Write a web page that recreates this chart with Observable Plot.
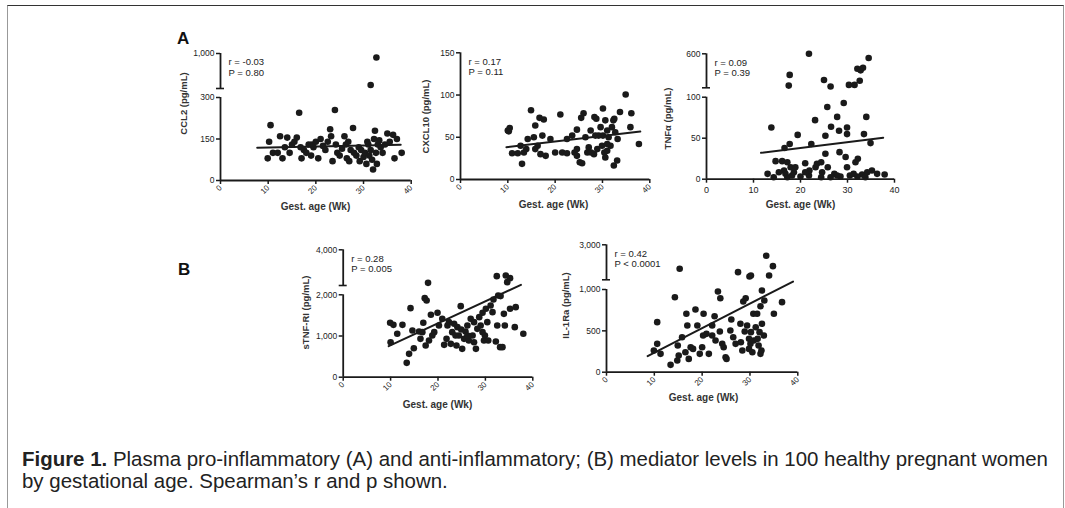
<!DOCTYPE html>
<html><head><meta charset="utf-8">
<script src="https://cdn.jsdelivr.net/npm/d3@7"></script>
<script src="https://cdn.jsdelivr.net/npm/@observablehq/plot@0.6"></script>
<style>
body{margin:0;background:#fff;}
#fig{position:relative;width:1065px;height:508px;overflow:hidden;font-family:"Liberation Sans",Arial,sans-serif;background:#fff;}
#frame{position:absolute;left:7px;top:5px;width:1055px;height:540px;border-top:1.5px solid #333;border-left:1.5px solid #999;border-right:1.5px solid #999;}
#fig svg{position:absolute;left:0;top:0;}
.letter{position:absolute;font-weight:bold;font-size:17px;line-height:17px;color:#111;}
.cap{position:absolute;left:22px;white-space:nowrap;font-size:20.5px;line-height:20px;color:#222;transform-origin:0 0;font-family:"Liberation Sans Narrow","Liberation Sans",Arial,sans-serif;}
</style></head>
<body>
<div id="fig"><div id="frame"></div>
<div class="letter" style="left:177px;top:30px;">A</div>
<div class="letter" style="left:178px;top:261px;">B</div>
<div class="cap" id="cap1" style="top:449px;"><b>Figure 1.</b> Plasma pro-inflammatory (A) and anti-inflammatory; (B) mediator levels in 100 healthy pregnant women</div>
<div class="cap" id="cap2" style="top:471px;">by gestational age. Spearman’s r and p shown.</div>
</div>
<script>
// ---------- data (gestational age in weeks, level in pg/mL) ----------
const xTicks = [0, 10, 20, 30, 40];
const xTitle = "Gest. age (Wk)";

const ccl2 = [[9.9,80],[10.2,140],[10.5,200],[11,100],[12,100],[12.5,160],[13,80],[13.5,120],[14,155],[14.5,100],[15,130],[15.5,140],[16,155],[16.5,245],[16.8,120],[17,80],[17.5,110],[18,100],[18.5,130],[19,90],[19.2,130],[19.5,120],[20,140],[20.5,80],[21,150],[21.5,125],[22,110],[22.5,140],[23,185],[23.2,160],[23.5,70],[24,255],[24.2,130],[24.5,100],[25,90],[25.5,115],[26,160],[26.3,130],[26.5,80],[26.8,140],[27,70],[27.3,110],[27.8,190],[28,100],[28.5,90],[29,120],[29.2,70],[29.5,110],[30,85],[30.3,100],[30.6,60],[30.8,140],[31,130],[31.2,90],[31.5,370],[31.5,110],[31.8,75],[32,40],[32.2,150],[32.4,180],[32.6,100],[32.7,920],[32.8,60],[33,130],[33.3,145],[33.6,120],[34,100],[34.5,130],[35,170],[35.5,140],[36.2,165],[36.5,80],[37,150],[38,100]];
const ccl2Fit = [[7.7,118],[37.8,129]];
const ccl2Ticks = [0, 150, 300, 1000];
const ccl2Stat = "r = -0.03\nP = 0.80";

const cxcl10 = [[10,58],[10.4,61],[10.2,57],[10.9,31],[12.1,31],[13,18.5],[13.9,36],[14.2,48],[14.9,82],[15.8,64],[16.7,73],[17.6,71],[16.3,40],[16.9,30],[18,28],[17.3,52],[19,48],[20,32],[21.1,77],[21.5,32],[22.5,48],[23.6,52],[24.1,32],[24.6,59],[25.2,20.5],[25.7,19.3],[25.5,73],[26,78.5],[26.4,50],[26.8,32],[27.5,58],[28.2,30],[28.3,74],[28.7,72],[28.9,36],[29.2,52],[29.6,62],[30.1,84],[30.4,32],[30.6,26],[31,58],[31.3,50],[31.7,40],[32,62],[32.3,70],[32.5,72],[32.4,16.6],[33.1,22.5],[33.7,80],[32.7,56],[33.2,48],[31,42],[29.9,40],[27.1,38],[24.6,36],[22.5,31],[34.9,100.6],[35.9,62],[36.1,78.5],[37.7,42],[15.5,50],[15.8,36],[13.4,32],[12.7,40],[28.5,52],[30.1,52],[31,34],[27.6,32],[24.6,28],[30.6,70]];
const cxcl10Fit = [[9.7,38.2],[38,56.8]];
const cxcl10Ticks = [0, 50, 100, 150];
const cxcl10Stat = "r = 0.17\nP = 0.11";

const tnfa = [[21.8,600],[17.7,290],[17.5,133],[25,214],[26.4,119],[30.3,143],[31.5,143],[32.1,381],[32.8,357],[33.3,395],[32.6,205],[34.5,538],[13.8,63],[13,6.5],[14.3,2.4],[14.7,22],[16.1,22],[16.5,10.6],[16.8,6.5],[17.2,2.4],[16.6,38],[17.7,43],[17.9,14.6],[18.2,4.5],[18.9,14.6],[19.4,54],[20,3.3],[21,19.5],[21.8,4.5],[22.3,43],[23.2,14.6],[23.5,18.7],[23.1,72],[24.4,20.7],[24.6,8.5],[25.3,53],[25.7,88],[25.3,31],[25.8,14.6],[26.4,2.4],[26.5,64],[27.2,6.5],[27.8,76],[28.2,59],[28.3,33],[28.5,3.3],[29.2,93],[29.6,27],[29.9,63],[29.9,55],[30.5,4.5],[31.3,6.5],[31.7,20.7],[32.2,25],[33.1,5.7],[33.5,55],[34,76],[34.9,44],[35.2,10.6],[36.3,6.5],[37.9,5.7],[29.9,14.6],[24.4,2.4],[21.9,10.6],[18.6,8.5],[17.2,20.7],[21,8.5],[27.8,4.5],[32.1,3.3],[34.2,8.5],[15.4,8.5],[33.8,2.4]];
const tnfaFit = [[11.6,32.2],[37.6,50.5]];
const tnfaTicks = [0, 50, 100, 600];
const tnfaStat = "r = 0.09\nP = 0.39";

const stnfr1 = [[34.3,2561],[35.2,2411],[34.6,2187],[17.9,2150],[32.4,2523],[9.9,1320],[10.6,1271],[10,850],[11.4,1053],[12.5,1271],[13.4,348],[13.9,567],[14.2,1676],[14.6,1134],[14.9,704],[16,1109],[16.3,931],[16.7,1093],[16.9,1320],[17.2,1919],[17.6,1862],[17.4,769],[18.1,891],[18.5,1514],[18.8,1012],[19.2,1093],[19.9,1563],[20.2,1255],[20.9,1417],[21.3,785],[21.8,931],[22,1255],[22.3,1336],[22.7,810],[23,1093],[23.4,1296],[23.9,769],[24.1,1215],[24.4,1012],[24.8,1725],[24.9,1158],[25.1,688],[25.5,931],[25.8,1109],[26.2,1255],[26.5,891],[26.9,1417],[27.3,1012],[27.6,1336],[28,688],[28.3,1174],[28.7,1457],[29,1255],[29.4,1563],[29.7,891],[29.9,1012],[30.1,1660],[30.4,1336],[30.6,891],[31.1,1741],[31.5,1579],[31.7,1887],[32.2,866],[32.5,1255],[32.7,1984],[33.1,729],[33.2,1968],[33.6,729],[33.9,1538],[34.1,1255],[35.2,1660],[36.2,1215],[36.4,1700],[38,1053],[26.2,1012],[23.7,1012],[29.4,1093],[27.6,850]];
const stnfr1Fit = [[9.6,752],[37.5,2039]];
const stnfr1Ticks = [0, 1000, 2000, 4000];
const stnfr1Stat = "r = 0.28\nP = 0.005";

const il1ra = [[15.3,1697],[27.5,1516],[30.2,1335],[29.9,1281],[33.4,2403],[34.8,1842],[34,1335],[10.6,605],[10.6,343],[9.9,262],[11.3,222],[13.4,89],[14.3,907],[14.8,141],[14.9,323],[15.8,423],[16.7,706],[16.9,565],[16.5,242],[17.2,161],[17.6,302],[18.1,282],[18.6,758],[19,565],[19.5,222],[20,302],[20.3,706],[20.9,464],[21.4,222],[22.1,565],[22.6,677],[22.8,383],[23.3,976],[23.8,895],[23.7,492],[24.2,343],[24.5,302],[24.9,181],[25.1,161],[25.9,504],[26.1,637],[26.5,423],[28,585],[28.1,363],[28.4,262],[28.6,855],[29.1,895],[28.9,492],[29.4,565],[29.8,403],[30.1,343],[30.2,484],[30.7,706],[30.8,383],[31.2,544],[31.5,706],[31.6,403],[32,484],[32.2,222],[32.4,262],[32.5,585],[32.2,798],[32.5,988],[33,867],[32.9,444],[29.8,282],[30.5,242],[35,706],[36.7,847],[27,343],[22.1,444],[20.2,444],[15.1,202],[31.8,323]];
const il1raFit = [[8.6,194],[39,1082]];
const il1raTicks = [0, 500, 1000, 3000];
const il1raStat = "r = 0.42\nP < 0.0001";

// ---------- layout (page pixels) ----------
const W = 1065, H = 420, ink = "#1a1a1a";
const panels = [
  {data: ccl2, fit: ccl2Fit, yTicks: ccl2Ticks, stat: ccl2Stat, yTitle: "CCL2 (pg/mL)",
   xPx: [220, 410.7], yDomain: [0, 300, 300.5, 1000], yRange: [180, 97, 88, 53], rotate: true,
   yTitlePos: [183, 103], xTitlePos: [315, 209]},
  {data: cxcl10, fit: cxcl10Fit, yTicks: cxcl10Ticks, stat: cxcl10Stat, yTitle: "CXCL10 (pg/mL)",
   xPx: [460, 649.3], yDomain: [0, 150], yRange: [179, 52.3], rotate: true,
   yTitlePos: [425, 116], xTitlePos: [553, 207]},
  {data: tnfa, fit: tnfaFit, yTicks: tnfaTicks, stat: tnfaStat, yTitle: "TNFα (pg/mL)",
   xPx: [706, 894], yDomain: [0, 100, 100.5, 600], yRange: [178.7, 96.7, 87.3, 53.3], rotate: false,
   yTitlePos: [667, 118], xTitlePos: [800, 207]},
  {data: stnfr1, fit: stnfr1Fit, yTicks: stnfr1Ticks, stat: stnfr1Stat, yTitle: "sTNF-RI (pg/mL)",
   xPx: [342.7, 532.3], yDomain: [0, 2000, 2000.5, 4000], yRange: [376.7, 294.3, 285, 249.3], rotate: true,
   yTitlePos: [305, 312], xTitlePos: [437, 407]},
  {data: il1ra, fit: il1raFit, yTicks: il1raTicks, stat: il1raStat, yTitle: "IL-1Ra (pg/mL)",
   xPx: [606, 797.3], yDomain: [0, 1000, 1100, 3000], yRange: [371.7, 289, 279.3, 244.3], rotate: true,
   yTitlePos: [565, 305], xTitlePos: [703, 400]}
];

const fig = document.getElementById("fig");
for (const p of panels) {
  const top = Math.min(...p.yRange), bottom = Math.max(...p.yRange);
  const [xl, xr] = p.xPx;
  const midY = (top + bottom) / 2, midX = (xl + xr) / 2;
  const d = p.yDomain;
  const marks = [
    Plot.ruleY([0], {stroke: ink, strokeWidth: 1.8}),
    Plot.ruleX([0], {y1: d[0], y2: d[1], stroke: ink, strokeWidth: 1.8}),
  ];
  if (d.length === 4) {
    marks.push(Plot.ruleX([0], {y1: d[2], y2: d[3], stroke: ink, strokeWidth: 1.8}));
    marks.push(Plot.ruleY([d[2]], {x1: 0, x2: 0, insetLeft: -4, insetRight: -4, stroke: ink, strokeWidth: 1.6}));
  }
  marks.push(
    Plot.axisX({ticks: xTicks, tickSize: 4, tickPadding: p.rotate ? 2 : 3, tickRotate: p.rotate ? -45 : 0,
      stroke: ink, strokeWidth: 1.5, fill: "#222", label: null, fontSize: p.rotate ? 8 : 9}),
    Plot.axisY({ticks: p.yTicks, tickFormat: d3.format(","), tickSize: 4, tickPadding: 2,
      stroke: ink, strokeWidth: 1.5, fill: "#222", label: null, fontSize: 8.5}),
    Plot.line(p.fit, {x: v => v[0], y: v => v[1], stroke: ink, strokeWidth: 2}),
    Plot.dot(p.data, {x: v => v[0], y: v => v[1], r: 3.3, fill: ink, stroke: "none"}),
    Plot.text([p.stat], {frameAnchor: "top-left", textAnchor: "start", lineAnchor: "top", dx: 8, dy: 4,
      fontSize: 9.5, lineHeight: 1.15, fill: "#222"}),
    Plot.text([p.yTitle], {frameAnchor: "left", textAnchor: "middle", lineAnchor: "middle", rotate: -90,
      dx: p.yTitlePos[0] - xl, dy: p.yTitlePos[1] - midY,
      fontSize: 9.5, fontWeight: "bold", fill: "#333"}),
    Plot.text([xTitle], {frameAnchor: "bottom", textAnchor: "middle", dx: p.xTitlePos[0] - midX, dy: p.xTitlePos[1] - bottom,
      fontSize: 10, fontWeight: "bold", fill: "#333"})
  );
  const svg = Plot.plot({
    width: W, height: H,
    marginLeft: xl, marginRight: W - xr, marginTop: top, marginBottom: H - bottom,
    x: {domain: [0, 40]},
    y: {type: "linear", domain: d, range: p.yRange},
    style: {background: "transparent", fontFamily: "'Liberation Sans', Arial, sans-serif", fontSize: "8.5px", overflow: "visible"},
    marks
  });
  fig.appendChild(svg);
}

// fit the condensed caption to the measured line length
const c1 = document.getElementById("cap1"), c2 = document.getElementById("cap2");
const w1 = c1.getBoundingClientRect().width;
const s = 1026 / w1;
c1.style.transform = `scaleX(${s})`;
c2.style.transform = `scaleX(${s})`;
</script>
</body></html>
